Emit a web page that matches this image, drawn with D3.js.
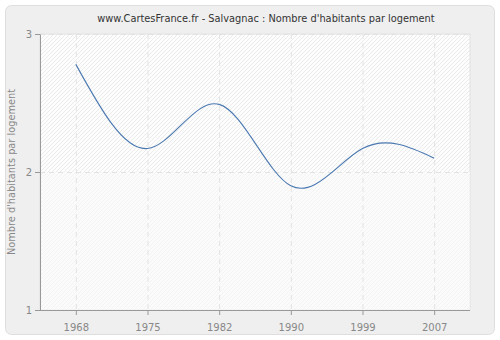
<!DOCTYPE html>
<html><head><meta charset="utf-8">
<script src="https://cdn.jsdelivr.net/npm/d3@7"></script>
<style>body{margin:0;background:#fff;}svg{display:block;}</style>
</head><body>
<svg id="c" width="500" height="340"></svg>
<script>
const years = ["1968","1975","1982","1990","1999","2007"];
const values = [2.78, 2.17, 2.49, 1.90, 2.17, 2.10];
const yTicks = [1, 2, 3];
const title = "www.CartesFrance.fr - Salvagnac : Nombre d'habitants par logement";
const yLabel = "Nombre d'habitants par logement";

const svg = d3.select("#c");
const font = "DejaVu Sans, Verdana, sans-serif";
const m = {left: 40, right: 470, top: 34, bottom: 310};

const defs = svg.append("defs");
const pat = defs.append("pattern").attr("id","hatch").attr("patternUnits","userSpaceOnUse")
  .attr("width",4).attr("height",4);
pat.append("rect").attr("width",4).attr("height",4).attr("fill","#fdfdfd");
pat.append("path").attr("d","M-1,1 l2,-2 M0,4 l4,-4 M3,5 l2,-2").attr("stroke","#ebebeb").attr("stroke-width",1);

svg.append("rect").attr("x",5.5).attr("y",5.5).attr("width",489).attr("height",329)
  .attr("rx",6).attr("fill","#efefef").attr("stroke","#dedede");

const x = d3.scalePoint().domain(years).range([m.left, m.right]).padding(0.5);
const y = d3.scaleLinear().domain([1,3]).range([m.bottom, m.top]);

svg.append("rect").attr("x",m.left).attr("y",m.top).attr("width",m.right-m.left).attr("height",m.bottom-m.top)
  .attr("fill","url(#hatch)").attr("stroke","#e2e2e2");
svg.append("rect").attr("x",m.left).attr("y",y(2)).attr("width",m.right-m.left).attr("height",m.bottom-y(2))
  .attr("fill","#fafafa").attr("opacity",0.55);

const g = svg.append("g");
years.forEach(yr => g.append("line").attr("x1",x(yr)+0.5).attr("x2",x(yr)+0.5).attr("y1",m.top).attr("y2",m.bottom)
  .attr("stroke","#e3e3e3").attr("stroke-dasharray","5,4"));
yTicks.forEach(t => g.append("line").attr("x1",m.left).attr("x2",m.right).attr("y1",Math.round(y(t))+0.5).attr("y2",Math.round(y(t))+0.5)
  .attr("stroke","#e3e3e3").attr("stroke-dasharray","5,4"));

const line = d3.line().x((d,i)=>x(years[i])).y(d=>y(d)).curve(d3.curveNatural);
svg.append("path").datum(values).attr("d",line).attr("fill","none").attr("stroke","#4a78b0").attr("stroke-width",1.1);

const xa = svg.append("g").attr("transform",`translate(0,${m.bottom})`).call(d3.axisBottom(x).tickSize(5).tickSizeOuter(0));
const ya = svg.append("g").attr("transform",`translate(${m.left},0)`).call(d3.axisLeft(y).tickValues(yTicks).tickFormat(d3.format("d")).tickSize(5).tickSizeOuter(0));
[xa,ya].forEach(a=>{
  a.select(".domain").attr("stroke","#999");
  a.selectAll(".tick line").attr("stroke","#999");
  a.selectAll("text").attr("fill","#888").attr("font-family",font).attr("font-size","10px");
});
xa.selectAll("text").attr("dy","1.25em");
xa.select(".domain").attr("d",`M${m.left},0.5H${m.right}`);

svg.append("text").attr("x",266).attr("y",22).attr("text-anchor","middle").attr("fill","#333")
  .attr("font-family",font).attr("font-size","9.8px").text(title);
svg.append("text").attr("transform",`translate(15,${(m.top+m.bottom)/2}) rotate(-90)`).attr("text-anchor","middle")
  .attr("fill","#888").attr("font-family",font).attr("font-size","9.8px").text(yLabel);
</script>
</body></html>
